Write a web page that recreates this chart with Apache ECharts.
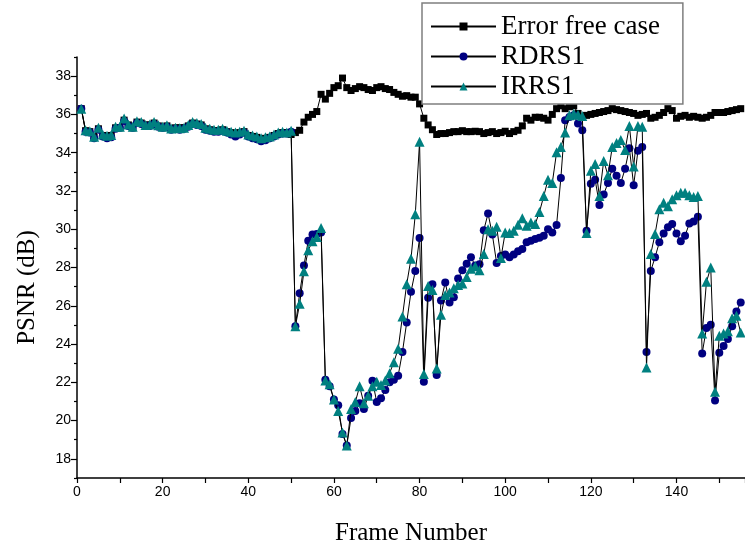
<!DOCTYPE html>
<html><head><meta charset="utf-8">
<script src="https://cdn.jsdelivr.net/npm/echarts@6/dist/echarts.min.js"></script>
<style>html,body{margin:0;padding:0;background:#fff}#c{width:745px;height:551px}</style>
</head><body><div id="c"></div>
<script>
const frames = Array.from({length:155},(_,i)=>i+1);
const errorFree = [
36.3,35.15,35.1,34.8,35.25,34.9,34.85,34.9,35.3,35.3,
35.7,35.45,35.3,35.6,35.55,35.45,35.45,35.55,35.4,35.3,
35.4,35.25,35.3,35.3,35.3,35.4,35.55,35.5,35.45,35.25,
35.2,35.15,35.15,35.2,35.1,35.05,35.0,35.05,35.1,34.9,
34.85,34.8,34.7,34.75,34.8,34.9,35.0,35.05,35.05,34.95,
35.05,35.17,35.6,35.85,36.0,36.15,37.05,36.8,37.1,37.4,
37.5,37.9,37.4,37.25,37.35,37.45,37.4,37.3,37.25,37.4,
37.45,37.35,37.3,37.15,37.05,36.95,36.98,36.9,36.9,36.55,
35.8,35.45,35.2,34.95,35.0,35.0,35.05,35.1,35.1,35.15,
35.1,35.1,35.12,35.1,35.0,35.05,35.1,35.0,35.05,35.12,
35.0,35.1,35.17,35.4,35.8,35.7,35.85,35.85,35.8,35.7,
36.0,36.3,36.45,36.3,36.4,36.45,36.05,35.85,35.95,36.0,
36.05,36.1,36.15,36.2,36.3,36.25,36.2,36.15,36.1,36.05,
35.95,36.0,36.05,35.8,35.85,35.95,36.1,36.3,36.2,35.8,
35.9,35.95,35.85,35.9,35.85,35.8,35.85,35.95,36.1,36.1,
36.1,36.15,36.2,36.25,36.3
];
const rdrs1 = [
36.3,35.1,35.05,34.75,35.2,34.85,34.75,34.8,35.25,35.3,
35.65,35.4,35.3,35.55,35.5,35.4,35.4,35.5,35.35,35.3,
35.35,35.2,35.25,35.2,35.25,35.35,35.5,35.45,35.4,35.2,
35.15,35.1,35.1,35.15,35.05,34.95,34.85,34.95,35.05,34.85,
34.75,34.7,34.6,34.65,34.75,34.85,34.95,35.0,35.0,35.1,
24.93,26.65,28.1,29.4,29.72,29.75,29.83,22.13,21.8,21.1,
20.8,19.3,18.7,20.14,20.5,20.9,20.6,21.3,22.08,20.97,
21.17,21.6,22.0,22.13,22.34,23.58,25.13,26.73,27.82,29.54,
22.03,26.42,27.13,22.38,26.27,27.21,26.17,26.44,27.42,27.85,
28.2,28.54,28.1,28.17,29.95,30.82,29.72,28.23,28.6,28.68,
28.54,28.68,28.85,28.97,29.32,29.4,29.49,29.55,29.66,30.0,
29.83,30.22,32.68,35.69,35.87,35.95,35.52,35.17,29.92,32.37,
32.59,31.27,31.82,32.42,33.16,32.8,32.42,33.16,34.23,32.3,
34.1,34.3,23.58,27.82,28.54,29.32,29.78,30.1,30.27,29.78,
29.37,29.66,30.3,30.4,30.65,23.51,24.84,25.01,21.05,23.54,
23.9,24.27,24.93,25.7,26.17
];
const irrs1 = [
36.3,35.17,35.12,34.83,35.3,34.95,34.88,34.92,35.35,35.35,
35.78,35.47,35.35,35.64,35.6,35.45,35.47,35.6,35.43,35.35,
35.43,35.26,35.3,35.28,35.3,35.45,35.6,35.55,35.5,35.3,
35.25,35.2,35.2,35.25,35.15,35.1,35.05,35.1,35.15,34.95,
34.9,34.85,34.75,34.8,34.85,34.95,35.05,35.1,35.05,35.15,
24.93,26.1,27.8,28.9,29.37,29.6,30.06,22.1,21.9,21.1,
20.5,19.38,18.7,20.6,20.97,21.79,20.9,21.3,21.8,22.03,
21.86,22.1,22.48,23.05,23.75,25.44,27.13,28.46,30.78,34.57,
22.43,27.03,26.82,22.72,25.53,26.56,26.7,26.91,27.08,27.17,
27.5,27.94,28.06,27.86,28.71,30.0,29.92,30.13,28.5,29.83,
29.8,29.92,30.23,30.58,30.18,30.35,30.27,30.9,31.73,32.59,
32.42,34.02,34.3,35.05,35.95,36.04,35.98,35.92,29.8,33.06,
33.41,31.73,33.57,32.82,34.3,34.5,34.66,34.14,35.4,33.28,
35.4,35.35,22.77,28.71,29.75,31.04,31.38,31.2,31.56,31.78,
31.9,31.9,31.78,31.68,31.73,24.55,27.25,28.0,21.51,24.44,
24.55,24.67,25.35,25.48,24.6
];
const yMajorTicks = [18,20,22,24,26,28,30,32,34,36,38];
const yMinorTicks = [17,19,21,23,25,27,29,31,33,35,37,39];
const xTickLabels = [0,20,40,60,80,100,120,140];

const pairs = arr => frames.map((f,i)=>[f, arr[i]]);
const serif = 'Liberation Serif';
const sans = 'Liberation Sans';

const chart = echarts.init(document.getElementById('c'), null, {renderer:'canvas'});
chart.setOption({
  animation:false,
  backgroundColor:'#fff',
  grid:{left:77, right:0, top:57, bottom:67, containLabel:false},
  legend:{
    orient:'vertical', left:422, top:3,
    padding:[10,23,4,8],
    itemWidth:65, itemHeight:10, itemGap:3,
    borderColor:'#7f7f7f', borderWidth:1.5, backgroundColor:'#fff',
    textStyle:{fontFamily:serif, fontSize:27, lineHeight:27, color:'#000'},
    data:['Error free case','RDRS1','IRRS1']
  },
  xAxis:{
    type:'value', min:0, max:156, interval:10,
    name:'Frame Number', nameLocation:'middle', nameGap:43,
    nameTextStyle:{fontFamily:serif, fontSize:25, color:'#000'},
    axisLine:{show:true, onZero:false, lineStyle:{color:'#000', width:1.5}},
    axisTick:{show:true, length:5, lineStyle:{color:'#000', width:1.2}},
    axisLabel:{customValues:xTickLabels, color:'#000', fontFamily:sans, fontSize:14, margin:7},
    splitLine:{show:false}
  },
  yAxis:[
    {
      type:'value', min:17, max:39, position:'left', offset:0,
      name:'PSNR (dB)', nameLocation:'middle', nameGap:37,
      nameTextStyle:{fontFamily:serif, fontSize:25, color:'#000', padding:[0,40,0,0]},
      axisLine:{show:true, onZero:false, lineStyle:{color:'#000', width:1.5}},
      axisTick:{show:true, length:6, customValues:yMajorTicks, lineStyle:{color:'#000', width:1.2}},
      axisLabel:{customValues:yMajorTicks, color:'#000', fontFamily:sans, fontSize:14, margin:6},
      splitLine:{show:false}
    },
    {
      type:'value', min:17, max:39, position:'left', offset:0,
      axisLine:{show:false},
      axisTick:{show:true, length:3, customValues:yMinorTicks, lineStyle:{color:'#000', width:1.2}},
      axisLabel:{show:false},
      splitLine:{show:false}
    }
  ],
  series:[
    {name:'Error free case', type:'line', yAxisIndex:0, data:pairs(errorFree),
     symbol:'rect', symbolSize:7, showAllSymbol:true, z:2,
     itemStyle:{color:'#000', borderWidth:0}, lineStyle:{color:'#000', width:1}},
    {name:'RDRS1', type:'line', yAxisIndex:0, data:pairs(rdrs1),
     symbol:'circle', symbolSize:8, showAllSymbol:true, z:3,
     itemStyle:{color:'#000080', borderWidth:0}, lineStyle:{color:'#000', width:1}},
    {name:'IRRS1', type:'line', yAxisIndex:0, data:pairs(irrs1),
     symbol:'triangle', symbolSize:10, showAllSymbol:true, z:4,
     itemStyle:{color:'#008080', borderWidth:0}, lineStyle:{color:'#000', width:1}}
  ]
});
</script>
</body></html>
